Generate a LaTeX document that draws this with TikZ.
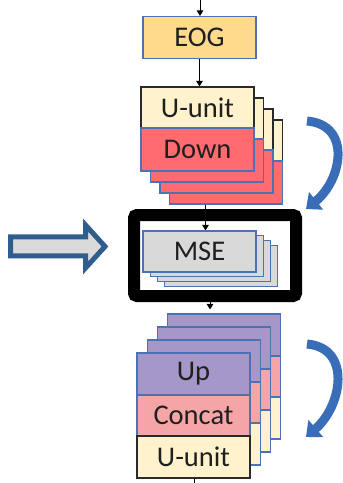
\documentclass[tikz,border=0pt]{standalone}
\usepackage{fontspec}
\setmainfont{Carlito}
\usetikzlibrary{arrows.meta,backgrounds}

\definecolor{edgeblue}{HTML}{4A72B5}
\definecolor{unitedge}{HTML}{2A2A2A}
\definecolor{eogfill}{HTML}{FFD98C}
\definecolor{cream}{HTML}{FFF2CC}
\definecolor{downred}{HTML}{FF6B6E}
\definecolor{msegray}{HTML}{D9D9D9}
\definecolor{uppurple}{HTML}{A597C8}
\definecolor{concatpink}{HTML}{F5A5A5}
\definecolor{loopblue}{HTML}{3A6DB8}
\definecolor{bigedge}{HTML}{2F5E8E}
\definecolor{bigfill}{HTML}{DADADA}

\begin{document}
\begin{tikzpicture}[x=1pt,y=-1pt,
  lbl/.style={font=\fontsize{28.5}{31}\selectfont, text=black!88},
  part/.style={draw=edgeblue, line width=1.1pt, inner sep=0pt, minimum width=113pt, lbl},
  unitpart/.style={part, draw=unitedge, fill=cream},
  conn/.style={draw=black, line width=1pt, -{Triangle[width=6.5pt,length=5.5pt]}},
  looparrow/.style={draw=loopblue, line width=9pt, -{Triangle[width=22pt,length=13pt]}},
]
\useasboundingbox (0,0) rectangle (343,483);

% input signal
\node[part, fill=eogfill, minimum height=42pt] (eog) at (199.5,37.5) {EOG};

% encoder stack, back layers first
\foreach \k in {3,2,1} {
  \node[unitpart, minimum height=41pt] (uu\k) at ({197.5+9.5*\k},{107.5+11*\k}) {};
  \node[part, fill=downred, minimum height=43pt] (dn\k) at ({197.5+9.5*\k},{149.5+11*\k}) {};
}
\node[unitpart, minimum height=41pt] (uu0) at (197.5,107.5) {U-unit};
\node[part, fill=downred, minimum height=43pt] (dn0) at (197.5,149.5) {Down};

% highlighted bottleneck
\node[draw=black, line width=12pt, rounded corners=3pt, minimum width=162pt,
      minimum height=81pt, inner sep=0pt] (frame) at (215,255.5) {};
\foreach \k in {3,2,1} {
  \node[part, fill=msegray, minimum height=41pt] (mse\k) at ({199.5+7.3*\k},{251.5+4.8*\k}) {};
}
\node[part, fill=msegray, minimum height=41pt] (mse) at (199.5,251.5) {MSE};

% decoder stack, back layers first
\foreach \k in {3,2,1} {
  \node[part, fill=uppurple, minimum height=42pt] (up\k) at ({193.5+10.3*\k},{374-13*\k}) {};
  \node[part, fill=concatpink, minimum height=41pt] (cc\k) at ({193.5+10.3*\k},{415.5-13*\k}) {};
  \node[part, fill=cream, minimum height=42pt] (ud\k) at ({193.5+10.3*\k},{457-13*\k}) {};
}
\node[part, fill=uppurple, minimum height=42pt] (up0) at (193.5,374) {Up};
\node[part, fill=concatpink, minimum height=41pt] (cc0) at (193.5,415.5) {Concat};
\node[unitpart, minimum height=42pt] (ud0) at (193.5,457) {U-unit};

% connectors, kept behind the boxes
\coordinate (src) at (200,0);
\coordinate (sink) at (194.5,483);
\coordinate (msein) at ([xshift=6pt]mse.north);
\coordinate (frameout) at ([xshift=-5pt]frame.south);
\begin{pgfonlayer}{background}
  \draw[conn] (src) -- (src |- eog.north);
  \draw[conn] (eog.south) -- (eog.south |- uu0.north);
  \draw[conn] (msein |- dn0.south) -- (msein);
  \draw[conn, shorten >=4pt] (frameout) -- (frameout |- up3.north);
  \draw[line width=1pt] (sink |- ud0.south) -- (sink);
\end{pgfonlayer}

% repetition loops
\draw[looparrow] (307,121) .. controls (352,125) and (342,180) .. (306,209);
\draw[looparrow] (307,344) .. controls (352,348) and (342,406) .. (306,437);

% input arrow
\draw[draw=bigedge, fill=bigfill, line width=5pt, line join=miter]
  (10.5,236.8) -- (85.5,236.8) -- (85.5,225) -- (105,246.5) -- (85.5,268)
  -- (85.5,255.8) -- (10.5,255.8) -- cycle;
\end{tikzpicture}
\end{document}
